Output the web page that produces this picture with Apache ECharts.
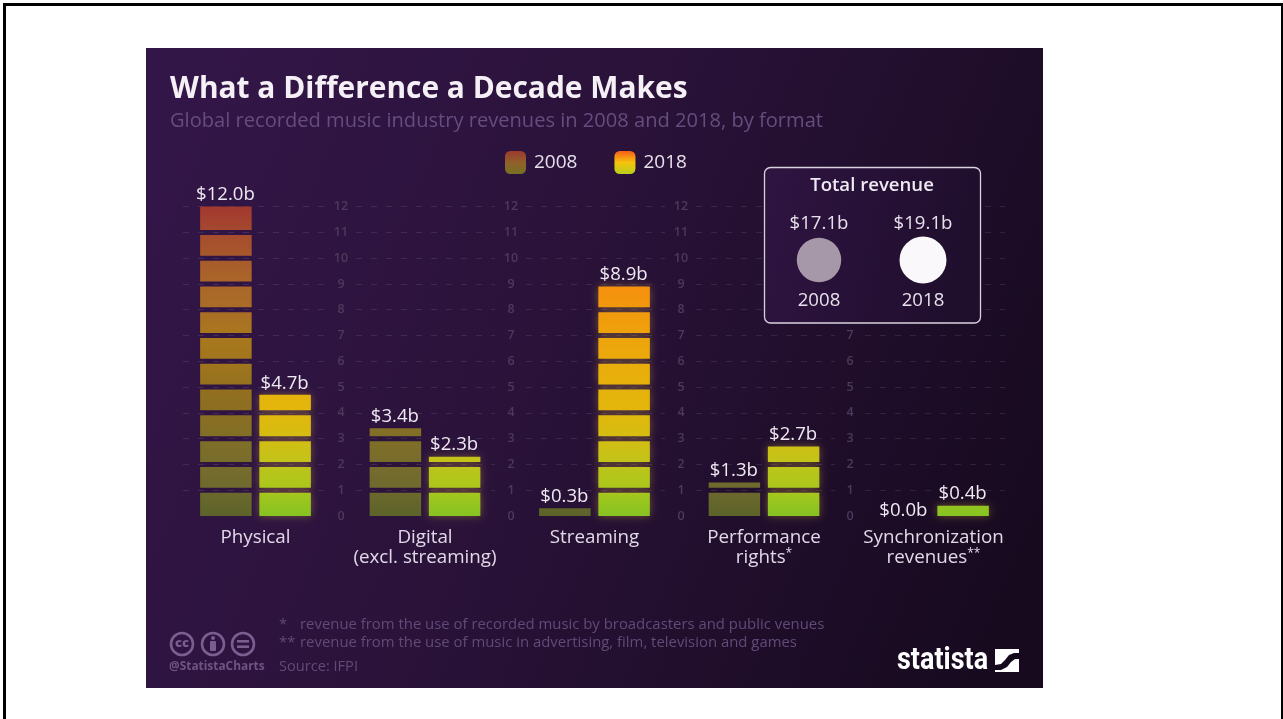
<!DOCTYPE html>
<html><head><meta charset="utf-8">
<style>
html,body{margin:0;padding:0;background:#fff;width:1283px;height:719px;overflow:hidden}
#frame{position:absolute;left:3px;top:3px;width:1275px;height:730px;border:3px solid #000;border-bottom:0;box-sizing:content-box}
#chart{position:absolute;left:146px;top:48px;width:897px;height:640px}
</style>
<script src="https://cdn.jsdelivr.net/npm/echarts@6/dist/echarts.min.js"></script>
</head><body>
<div id="frame"></div><div id="chart"></div>
<script>
const categories = ['Physical','Digital\n(excl. streaming)','Streaming','Performance\nrights*','Synchronization\nrevenues**'];
const values2008 = [12.0,3.4,0.3,1.3,0.0];
const values2018 = [4.7,2.3,8.9,2.7,0.4];
const totalYears = ['2008','2018'];
const totalValues = [17.1,19.1];
const tickValues = [0,1,2,3,4,5,6,7,8,9,10,11,12];
const stops2008 = ['#5c632a','#6d692d','#776c2c','#806f27','#8a6e22','#94701f','#a1761c','#a9781e','#a96d26','#ab6729','#a85a2b','#a54a2e','#a2382f'];
const stops2018 = ['#86c322','#a8c71c','#bfc41a','#d4bd12','#e2b70c','#e6b20b','#eaab0c','#eea30c','#f2980d','#f6900e','#f87c14','#f86c18','#f65c1c'];

const FONT = '"Open Sans","Noto Sans",sans-serif';
const G = {top:158.6,height:309.4};
const grad = (stops,y0,y1,global)=>({type:'linear',x:0,y:global?y0:1,x2:0,y2:global?y1:0,global:!!global,
  colorStops:stops.map((c,i)=>({offset:i/(stops.length-1),color:c}))});

function barSeries(name,vals,stops,side,glow){
  return {name,type:'custom',coordinateSystem:'cartesian2d',xAxisIndex:0,yAxisIndex:0,z:3,clip:false,
    encode:{x:0,y:1},
    itemStyle:{color:grad(stops)},
    data:vals.map((v,i)=>[i,v]),
    renderItem(params,api){
      const i=api.value(0),v=api.value(1);
      const w=51.5,cx=api.coord([i,0])[0]+side*29.6;
      const y0=api.coord([i,0])[1],y12=api.coord([i,12])[1];
      const fill=grad(stops,y0,y12,true);
      const kids=[];
      for(let k=0;k<Math.ceil(v);k++){
        const lo=k, hi=Math.min(k+1,v);
        const bot=api.coord([i,lo])[1]-(k>0?2.5:0);
        const top=api.coord([i,hi])[1]+(hi===k+1&&hi<v?2.5:0);
        kids.push({type:'rect',shape:{x:cx-w/2,y:top,width:w,height:bot-top},
          style:{fill,shadowBlur:glow?9:0,shadowColor:'rgba(240,190,60,0.38)'}});
      }
      const yTop=api.coord([i,v])[1];
      kids.push({type:'text',style:{x:cx-0.5,y:yTop-(v===0?5:11.5),text:'$'+v.toFixed(1)+'b',
        align:'center',verticalAlign:'middle',fill:'#efe9f2',font:'18.6px '+FONT}});
      return {type:'group',children:kids};
    }};
}

const segs=[[37,142],[210,139],[380,139],[550,139],[719,140]];
const grids=[{left:24.75,width:847.5,top:G.top,height:G.height}];
const xAxes=[{type:'category',gridIndex:0,data:categories,axisLine:{show:false},axisTick:{show:false},
  axisLabel:{color:'#e2d9e8',fontFamily:FONT,fontSize:18.8,lineHeight:20,margin:12,interval:0,
    formatter:v=>v.replace(/(\*+)/,'{s|$1}'),
    rich:{s:{fontSize:12,verticalAlign:'top',lineHeight:20,color:'#e2d9e8',fontFamily:FONT}}}}];
const yAxes=[{type:'value',gridIndex:0,min:0,max:12,interval:1,show:false}];
segs.forEach((s,n)=>{
  grids.push({left:s[0],width:s[1],top:G.top,height:G.height});
  xAxes.push({type:'value',gridIndex:n+1,show:false,min:0,max:1});
  yAxes.push({type:'value',gridIndex:n+1,min:0,max:12,interval:1,z:1,
    axisLine:{show:false},axisTick:{show:false},
    axisLabel:{show:n>0,align:'center',margin:15,color:'#4c3a5c',fontFamily:FONT,fontSize:12.5,fontWeight:600,
      formatter:v=>tickValues.includes(v)?String(v):''},
    splitLine:{show:true,showMinLine:false,lineStyle:{color:'rgba(255,255,255,0.095)',width:1.2,type:[6,9]}}});
});
grids.push({left:621,width:208,top:192,height:40});
xAxes.push({type:'category',gridIndex:6,data:totalYears,axisLine:{show:false},axisTick:{show:false},z:12,
  axisLabel:{color:'#e8e1ec',fontFamily:FONT,fontSize:18.6,margin:11,interval:0}});
yAxes.push({type:'value',gridIndex:6,min:0,max:1,show:false});

const iconC='#7c5d90';
const noteC='#624a78';
const graphicEls=[
 {type:'rect',z:5,shape:{x:618.5,y:119.5,width:216,height:155.5,r:6},
  style:{fill:{type:'linear',x:0,y:0,x2:1,y2:0.3,colorStops:[{offset:0,color:'#2f1442'},{offset:1,color:'#1f0e2c'}]},stroke:'#d9d2de',lineWidth:1.3}},
 {type:'text',z:6,style:{x:726,y:138,text:'Total revenue',align:'center',verticalAlign:'middle',fill:'#efe9f2',font:'600 18.6px '+FONT}},
 {type:'circle',shape:{cx:36,cy:596,r:11},style:{fill:'none',stroke:iconC,lineWidth:2.6}},
 {type:'text',style:{x:36,y:595.5,text:'cc',align:'center',verticalAlign:'middle',fill:iconC,font:'800 13px '+FONT}},
 {type:'circle',shape:{cx:67,cy:596,r:11},style:{fill:'none',stroke:iconC,lineWidth:2.6}},
 {type:'circle',shape:{cx:67,cy:590,r:2},style:{fill:iconC}},
 {type:'rect',shape:{x:64,y:593,width:6,height:10,r:1},style:{fill:iconC}},
 {type:'circle',shape:{cx:97,cy:596,r:11},style:{fill:'none',stroke:iconC,lineWidth:2.6}},
 {type:'rect',shape:{x:91,y:592,width:12,height:2.6},style:{fill:iconC}},
 {type:'rect',shape:{x:91,y:597.4,width:12,height:2.6},style:{fill:iconC}},
 {type:'text',style:{x:23,y:619,text:'@StatistaCharts',align:'left',verticalAlign:'middle',fill:'#6f5384',font:'700 11.9px '+FONT}},
 {type:'text',style:{x:133,y:619,text:'Source: IFPI',align:'left',verticalAlign:'middle',fill:noteC,font:'14.6px '+FONT}},
 {type:'text',style:{x:133,y:577,text:'*',align:'left',verticalAlign:'middle',fill:noteC,font:'14.9px '+FONT}},
 {type:'text',style:{x:154,y:577,text:'revenue from the use of recorded music by broadcasters and public venues',align:'left',verticalAlign:'middle',fill:noteC,font:'14.9px '+FONT}},
 {type:'text',style:{x:133,y:595,text:'**',align:'left',verticalAlign:'middle',fill:noteC,font:'14.9px '+FONT}},
 {type:'text',style:{x:154,y:595,text:'revenue from the use of music in advertising, film, television and games',align:'left',verticalAlign:'middle',fill:noteC,font:'14.9px '+FONT}},
 {type:'text',x:751,y:613,scaleX:0.93,scaleY:1.08,style:{x:0,y:0,text:'statista',align:'left',verticalAlign:'middle',fill:'#ffffff',font:'700 29px "Roboto",'+FONT}},
 {type:'rect',shape:{x:849,y:601,width:24,height:23},style:{fill:'#ffffff'}},
 {type:'polygon',shape:{points:[[849,617],[855,616],[859,612],[863,607],[868,605],[873,605],[873,611],[869,611],[865,614],[861,619],[855,622],[849,622]]},style:{fill:'#150a1c'}}
];

const option={
 animation:false,
 backgroundColor:{type:'linear',x:0,y:0.15,x2:1,y2:0.75,colorStops:[{offset:0,color:'#331648'},{offset:0.45,color:'#2a1239'},{offset:1,color:'#170a1f'}]},
 textStyle:{fontFamily:FONT},
 title:{left:19,top:21,text:'What a Difference a Decade Makes',subtext:'Global recorded music industry revenues in 2008 and 2018, by format',itemGap:7,
   textStyle:{color:'#f4f0f6',fontFamily:FONT,fontWeight:700,fontSize:29.9},
   subtextStyle:{color:'#664d7f',fontFamily:FONT,fontSize:20.1}},
 legend:{left:354,top:98,itemWidth:21,itemHeight:23,itemGap:37,
   textStyle:{color:'#e8e1ec',fontFamily:FONT,fontSize:19,padding:[0,0,0,3]},
   data:[{name:'2008',icon:'roundRect',itemStyle:{color:grad(['#757124','#90602a','#9c3a2f'])}},
         {name:'2018',icon:'roundRect',itemStyle:{color:grad(['#b8cf1c','#f6c40c','#f65c1c'])}}]},
 grid:grids,xAxis:xAxes,yAxis:yAxes,
 graphic:{elements:graphicEls},
 series:[
  barSeries('2008',values2008,stops2008,-1,false),
  barSeries('2018',values2018,stops2018,1,true),
  {type:'scatter',name:'Total revenue',xAxisIndex:6,yAxisIndex:6,z:10,
   symbol:'circle',
   data:totalValues.map((v,i)=>({value:[i,0.5],
     symbolSize:10.75*Math.sqrt(v),
     itemStyle:{color:i?'#faf8fa':'#a698a9',opacity:1},
     label:{show:true,position:'inside',offset:[0,-36],color:'#e8e1ec',fontFamily:FONT,fontSize:18.6,
       formatter:'$'+v.toFixed(1)+'b'}})),
   silent:true}
 ]
};
const chart=echarts.init(document.getElementById('chart'),null,{renderer:'canvas'});
chart.setOption(option);
</script>
</body></html>
